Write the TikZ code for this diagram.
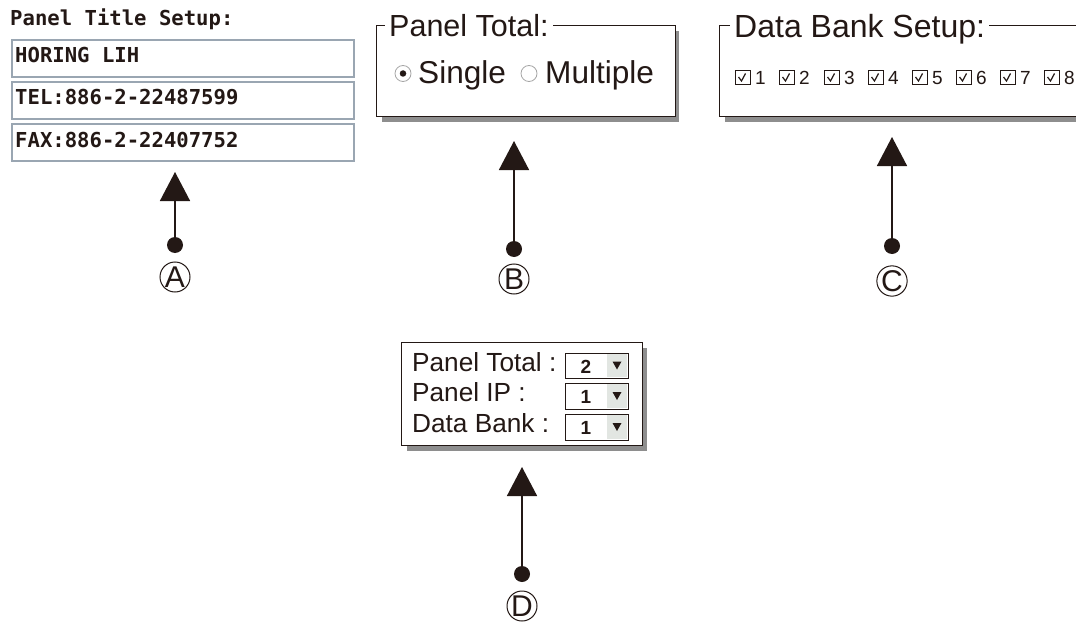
\documentclass[tikz,border=0pt]{standalone}
\usepackage{fontspec}
\setmainfont{Liberation Sans}
\newfontfamily\pixfont{DejaVu Sans Mono}
\usetikzlibrary{arrows.meta}
\definecolor{ink}{HTML}{231815}
\definecolor{shade}{HTML}{8E8E8E}
\definecolor{fieldline}{HTML}{9AA6B2}
\definecolor{btn}{HTML}{E2E6E2}
\newcommand{\fsz}[1]{\fontsize{#1}{#1}\selectfont}
\tikzset{
  panelbox/.style={draw=ink,line width=1pt,fill=white},
  shadowbox/.style={fill=shade,draw=none},
  titletext/.style={anchor=base west,inner ysep=0pt,inner xsep=4pt,fill=white,text=ink,font=\fsz{30.5}},
  bigtext/.style={anchor=base west,inner sep=0pt,text=ink,font=\fsz{31.6}},
  formtext/.style={anchor=base west,inner sep=0pt,text=ink,font=\fsz{26.2}},
  smalltext/.style={anchor=base west,inner sep=0pt,text=ink,font=\fsz{19}},
  pixtext/.style={anchor=base west,inner sep=0pt,text=ink,font=\pixfont\bfseries\fsz{20.6}},
  field/.style={draw=fieldline,line width=1.6pt,fill=white,minimum width=342pt,minimum height=37pt,anchor=north west,inner sep=0pt},
  arrowline/.style={draw=ink,line width=1.5pt,-{Triangle[length=29pt,width=30pt]}},
  dotnode/.style={circle,fill=ink,draw=none,minimum size=16pt,inner sep=0pt},
  letternode/.style={circle,draw=ink,line width=1pt,minimum size=30pt,inner sep=0pt,text=ink,font=\fsz{30}},
  radio/.style={circle,draw=black!35,line width=.8pt,fill=white,minimum size=16pt,inner sep=0pt},
  radiodot/.style={circle,fill=ink,minimum size=6.5pt,inner sep=0pt},
  chkbox/.style={draw=ink,line width=.8pt,minimum size=14.5pt,inner sep=0pt,anchor=north west},
  chkmark/.style={draw=ink,line width=1.2pt},
  combo/.style={draw=ink,line width=1.2pt,fill=white,minimum width=63pt,minimum height=25.5pt,inner sep=0pt,anchor=north west},
  combobtn/.style={fill=btn,draw=none,minimum width=20pt,minimum height=23.5pt,inner sep=0pt,anchor=north east},
  combotri/.style={fill=ink,draw=none},
  comboval/.style={inner sep=0pt,text=ink,font=\bfseries\fsz{19}}
}
\begin{document}
\begin{tikzpicture}[x=1pt,y=-1pt]
\useasboundingbox (0,0) rectangle (1076,623);
\clip (0,0) rectangle (1076,623);
\fill[white] (0,0) rectangle (1076,623);

% Panel A
\node[pixtext] (titleA) at (10,26) {Panel Title Setup:};
\node[field] (f1) at (11,39) {};
\node[field] (f2) at (11,81) {};
\node[field] (f3) at (11,123) {};
\node[pixtext] (f1t) at (15,63) {HORING LIH};
\node[pixtext] (f2t) at (15,105) {TEL:886-2-22487599};
\node[pixtext] (f3t) at (15,147) {FAX:886-2-22407752};

% Panel B
\fill[shadowbox] (382,31) rectangle (679,122);
\draw[panelbox] (376,26) rectangle (675,117);
\node[titletext] (titleB) at (385,37) {Panel Total:};
\node[radio] (rs) at (403,73.5) {};
\node[radiodot] (rsd) at (403,73.5) {};
\node[bigtext] (single) at (418,84) {Single};
\node[radio] (rm) at (529,73.5) {};
\node[bigtext] (multiple) at (545,84) {Multiple};

% Panel C
\fill[shadowbox] (725,31) rectangle (1090,122);
\draw[panelbox] (719,26) rectangle (1090,117);
\node[titletext,font=\fsz{32}] (titleC) at (730,38) {Data Bank Setup:};
\foreach \n/\px in {1/735,2/779,3/824,4/868,5/912,6/956,7/1000,8/1044}{
  \node[chkbox] (cb\n) at (\px,70) {};
  \draw[chkmark] (\px+3.5,77) -- (\px+6.5,81) -- (\px+10.5,73.5);
  \node[smalltext] (cn\n) at (\px+20,85) {\n};
}

% Panel D
\fill[shadowbox] (407,348) rectangle (647,451);
\draw[panelbox] (401,342) rectangle (642,445);
\node[formtext] (l1) at (412,371) {Panel Total :};
\node[formtext] (l2) at (412,401) {Panel IP :};
\node[formtext] (l3) at (412,432) {Data Bank :};
\foreach \n/\py/\v in {1/352.5/2,2/383/1,3/414/1}{
  \node[combo] (cm\n) at (565,\py) {};
  \node[combobtn] (cb-b\n) at (627.3,\py+1) {};
  \fill[combotri] (612.5,\py+9) -- (621.5,\py+9) -- (617,\py+17) -- cycle;
  \node[comboval] (cv\n) at (586,\py+14) {\v};
}

% Pointers
\coordinate (tipA) at (175,172);
\coordinate (tipB) at (514,141);
\coordinate (tipC) at (892,137);
\coordinate (tipD) at (522,467);
\node[dotnode] (dotA) at (175,245) {};
\node[dotnode] (dotB) at (514,249) {};
\node[dotnode] (dotC) at (892,246) {};
\node[dotnode] (dotD) at (522,574) {};
\draw[arrowline] (dotA) -- (tipA);
\draw[arrowline] (dotB) -- (tipB);
\draw[arrowline] (dotC) -- (tipC);
\draw[arrowline] (dotD) -- (tipD);
\node[letternode] (letA) at (175,277) {A};
\node[letternode] (letB) at (514,279) {B};
\node[letternode] (letC) at (892,281) {C};
\node[letternode] (letD) at (522,606) {D};
\end{tikzpicture}
\end{document}
